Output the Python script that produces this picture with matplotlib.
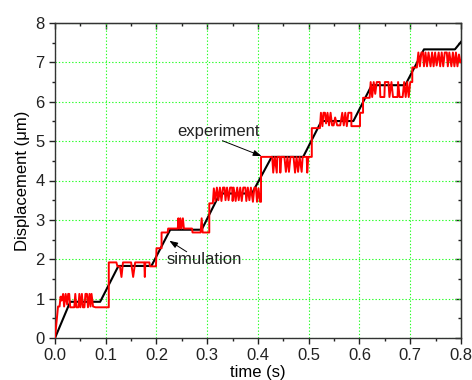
import matplotlib
matplotlib.use("Agg")
import matplotlib.pyplot as plt
from matplotlib.ticker import MultipleLocator

plt.rcParams["font.family"] = ["Liberation Sans", "DejaVu Sans"]

# simulation: staircase with ramps
sim_t = [0.000, 0.030, 0.089, 0.125, 0.190, 0.227, 0.289, 0.325, 0.388,
         0.427, 0.489, 0.525, 0.588, 0.624, 0.690, 0.727, 0.788, 0.800]
sim_y = [0.00, 0.92, 0.92, 1.83, 1.83, 2.75, 2.75, 3.67, 3.67,
         4.60, 4.60, 5.51, 5.51, 6.42, 6.42, 7.33, 7.33, 7.52]

# experiment: noisy staircase, toggling between two levels on each step
exp_t = [
    0.000, 0.004, 0.006, 0.009, 0.011, 0.013, 0.016, 0.018, 0.021, 0.024,
    0.026, 0.028, 0.030, 0.038, 0.040, 0.042, 0.046, 0.048, 0.050, 0.053,
    0.055, 0.058, 0.060, 0.063, 0.065, 0.068, 0.070, 0.072, 0.075, 0.080,
    0.106, 0.106,
    0.121, 0.123, 0.128, 0.131, 0.134, 0.150, 0.154, 0.158, 0.176, 0.177,
    0.178, 0.186, 0.187, 0.199, 0.200, 0.210, 0.210,
    0.222, 0.223, 0.242, 0.243, 0.245, 0.247, 0.249, 0.252, 0.254, 0.270,
    0.271, 0.287, 0.289, 0.291, 0.304, 0.304, 0.311, 0.313,
    0.316, 0.319, 0.322, 0.325, 0.328, 0.331, 0.334, 0.336, 0.339, 0.342,
    0.345, 0.349, 0.350, 0.352, 0.356, 0.359, 0.362, 0.365, 0.368, 0.371,
    0.375, 0.377, 0.380, 0.383, 0.386, 0.390, 0.393, 0.396, 0.398, 0.401,
    0.404, 0.406, 0.406,
    0.428, 0.430, 0.433, 0.437, 0.438, 0.443, 0.444, 0.446, 0.452, 0.455,
    0.458, 0.461, 0.464, 0.470, 0.473, 0.476, 0.479, 0.482, 0.486, 0.488,
    0.496, 0.497, 0.499, 0.506, 0.506, 0.522, 0.524,
    0.527, 0.529, 0.532, 0.534, 0.537, 0.540, 0.543, 0.546, 0.549, 0.552,
    0.556, 0.562, 0.566, 0.569, 0.572, 0.575, 0.578, 0.584, 0.584, 0.601,
    0.601, 0.607, 0.607, 0.620, 0.622,
    0.625, 0.628, 0.631, 0.634, 0.640, 0.641, 0.649, 0.650, 0.657, 0.659,
    0.663, 0.666, 0.675, 0.676, 0.679, 0.685, 0.688, 0.691, 0.694, 0.697,
    0.700, 0.704, 0.704, 0.713, 0.716,
    0.719, 0.722, 0.725, 0.727, 0.730, 0.733, 0.736, 0.740, 0.743, 0.746,
    0.749, 0.752, 0.756, 0.759, 0.762, 0.765, 0.768, 0.772, 0.774, 0.777,
    0.781, 0.784, 0.787, 0.790, 0.793, 0.796, 0.799, 0.800,
]
exp_y = [
    0.00, 0.55, 0.80, 0.80, 1.05, 0.95, 1.12, 0.80, 1.12, 0.85,
    1.12, 1.12, 0.78, 0.78, 1.12, 0.78, 0.78, 1.12, 0.78, 1.12,
    0.78, 0.78, 1.12, 1.12, 0.78, 1.12, 0.80, 1.12, 0.80, 0.78,
    0.78, 1.92,
    1.92, 1.82, 1.82, 1.55, 1.92, 1.92, 1.55, 1.92, 1.92, 1.55,
    1.92, 1.92, 1.82, 1.82, 2.28, 2.28, 2.68,
    2.68, 2.78, 2.78, 3.04, 2.78, 3.04, 2.78, 3.04, 2.78, 2.78,
    2.68, 2.68, 3.04, 2.68, 2.68, 3.42, 3.42, 3.80,
    3.48, 3.82, 3.50, 3.82, 3.48, 3.82, 3.82, 3.50, 3.82, 3.50,
    3.82, 3.82, 3.48, 3.82, 3.48, 3.82, 3.50, 3.82, 3.48, 3.82,
    3.82, 3.48, 3.82, 3.50, 3.82, 3.46, 3.82, 3.82, 3.46, 3.80,
    3.46, 3.46, 4.60,
    4.60, 4.20, 4.60, 4.20, 4.60, 4.60, 4.20, 4.60, 4.60, 4.22,
    4.60, 4.22, 4.60, 4.60, 4.20, 4.60, 4.22, 4.60, 4.22, 4.60,
    4.60, 4.20, 4.60, 4.60, 5.33, 5.33, 5.72,
    5.38, 5.72, 5.72, 5.45, 5.72, 5.40, 5.72, 5.40, 5.40, 5.60,
    5.40, 5.40, 5.72, 5.40, 5.72, 5.38, 5.72, 5.72, 5.38, 5.38,
    5.72, 5.72, 6.10, 6.10, 6.50,
    6.12, 6.50, 6.20, 6.50, 6.50, 6.12, 6.12, 6.50, 6.50, 6.12,
    6.50, 6.12, 6.12, 6.50, 6.12, 6.12, 6.50, 6.12, 6.50, 6.12,
    6.50, 6.50, 6.87, 6.87, 7.25,
    6.90, 7.25, 7.25, 6.90, 7.25, 6.90, 7.25, 6.90, 7.25, 6.90,
    7.25, 6.92, 7.25, 6.90, 7.25, 6.90, 7.25, 7.25, 6.90, 7.25,
    6.90, 7.25, 6.90, 7.25, 6.90, 7.20, 7.00, 7.05,
]

fig = plt.figure(figsize=(4.72, 3.80), dpi=100)
ax = fig.add_axes([0.1165, 0.1105, 0.8602, 0.829])

ax.grid(True, which="major", color="#22ff22", ls=(0, (1.2, 1.8)), lw=0.8)
ax.set_axisbelow(True)

ax.plot(sim_t, sim_y, color="black", lw=1.5, zorder=3)
ax.plot(exp_t, exp_y, color="#ff0000", lw=1.4, zorder=4)

ax.set_xlim(0, 0.8)
ax.set_ylim(0, 8)
ax.xaxis.set_major_locator(MultipleLocator(0.1))
ax.xaxis.set_minor_locator(MultipleLocator(0.05))
ax.yaxis.set_major_locator(MultipleLocator(1))
ax.yaxis.set_minor_locator(MultipleLocator(0.5))
ax.xaxis.set_major_formatter(plt.FuncFormatter(lambda v, p: f"{v:.1f}"))

ax.tick_params(which="both", direction="out", top=False, right=False,
               labelsize=12, colors="#222222", width=1)
ax.tick_params(which="major", length=4)
ax.tick_params(which="minor", length=2.5)

# inward ticks on the top and right frame, Origin style
sec_x = ax.secondary_xaxis("top")
sec_x.xaxis.set_major_locator(MultipleLocator(0.1))
sec_x.xaxis.set_minor_locator(MultipleLocator(0.05))
sec_x.tick_params(which="both", direction="in", labeltop=False, width=1, colors="#222222")
sec_x.tick_params(which="major", length=4)
sec_x.tick_params(which="minor", length=2.5)
sec_y = ax.secondary_yaxis("right")
sec_y.yaxis.set_major_locator(MultipleLocator(1))
sec_y.yaxis.set_minor_locator(MultipleLocator(0.5))
sec_y.tick_params(which="both", direction="in", labelright=False, width=1, colors="#222222")
sec_y.tick_params(which="major", length=4)
sec_y.tick_params(which="minor", length=2.5)

for s in ax.spines.values():
    s.set_color("#333333")
    s.set_linewidth(1.0)

ax.set_xlabel("time (s)", fontsize=12, labelpad=1)
ax.set_ylabel("Displacement (\u03bcm)", fontsize=12, labelpad=4)

arrow = dict(arrowstyle="-|>,head_length=0.5,head_width=0.18", color="black", lw=0.7,
             shrinkA=0, shrinkB=0)
ax.annotate("", xy=(0.407, 4.62), xytext=(0.330, 5.01), arrowprops=arrow, zorder=5)
ax.text(0.3227, 5.25, "experiment", fontsize=12, ha="center", va="center", color="#222222")
ax.annotate("", xy=(0.2253, 2.47), xytext=(0.2595, 2.19), arrowprops=arrow, zorder=5)
ax.text(0.294, 2.0, "simulation", fontsize=12, ha="center", va="center", color="#222222")

fig.savefig("out.png", dpi=100)
